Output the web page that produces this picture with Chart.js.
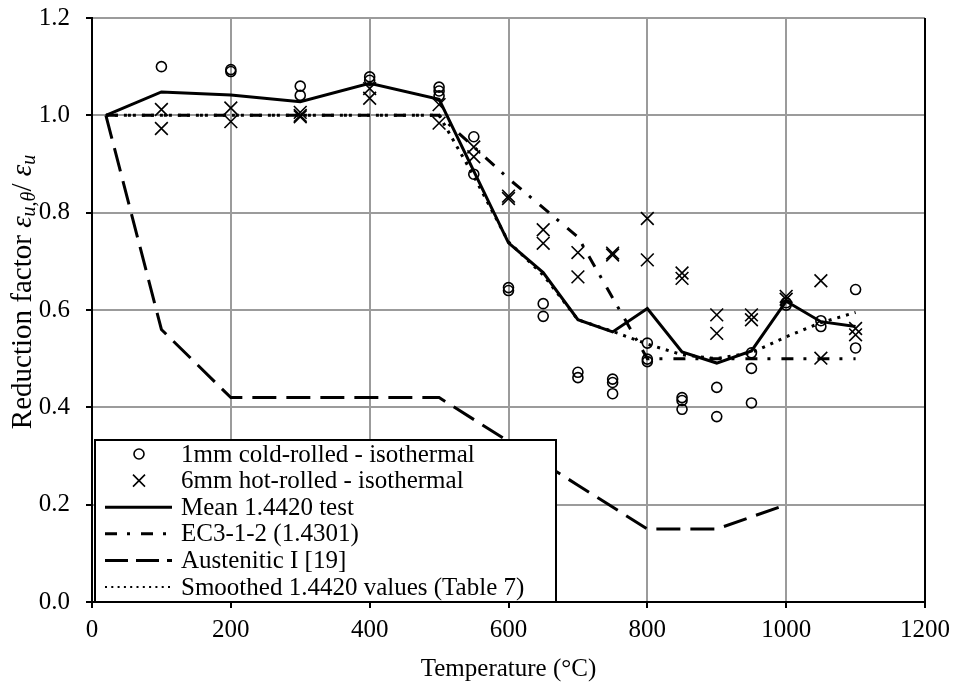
<!DOCTYPE html>
<html>
<head>
<meta charset="utf-8">
<script src="https://cdn.jsdelivr.net/npm/chart.js@4.4.0/dist/chart.umd.min.js"></script>
<style>
  html, body { margin: 0; padding: 0; background: #fff; }
</style>
</head>
<body>
<canvas id="chart" width="957" height="691"></canvas>
<script>
// test points, 1mm cold-rolled (circles)
const coldTemps = [100, 200, 200, 300, 300, 400, 400, 500, 500, 500, 550, 550, 600, 600, 650, 650,
  700, 700, 750, 750, 750, 800, 800, 800, 850, 850, 850, 900, 900, 950, 950, 950, 1000, 1000,
  1050, 1050, 1100, 1100];
const coldValues = [1.10, 1.090, 1.094, 1.060, 1.041, 1.079, 1.072, 1.058, 1.050, 1.040, 0.956, 0.879,
  0.646, 0.640, 0.613, 0.587, 0.472, 0.461, 0.458, 0.451, 0.428, 0.532, 0.499, 0.494, 0.420, 0.414,
  0.396, 0.441, 0.381, 0.512, 0.480, 0.409, 0.615, 0.610, 0.578, 0.566, 0.642, 0.522];

// test points, 6mm hot-rolled (crosses)
const hotTemps = [100, 100, 200, 200, 300, 300, 300, 400, 400, 500, 500, 550, 550, 600, 600, 650, 650,
  700, 700, 750, 750, 800, 800, 850, 850, 900, 900, 950, 950, 1000, 1000, 1050, 1050, 1100, 1100];
const hotValues = [1.012, 0.973, 1.015, 0.987, 1.006, 1.000, 0.997, 1.055, 1.035, 1.022, 0.984, 0.935,
  0.915, 0.834, 0.829, 0.765, 0.737, 0.718, 0.668, 0.717, 0.713, 0.788, 0.703, 0.676, 0.665, 0.590,
  0.552, 0.590, 0.580, 0.628, 0.622, 0.660, 0.501, 0.562, 0.549];

const meanTemps = [20, 100, 200, 300, 400, 500, 600, 650, 700, 750, 800, 850, 900, 950, 1000, 1050, 1100];
const meanValues = [1.0, 1.048, 1.042, 1.028, 1.066, 1.033, 0.738, 0.677, 0.580, 0.555, 0.603, 0.514,
  0.491, 0.516, 0.618, 0.576, 0.566];

const ec3Temps = [20, 100, 200, 300, 400, 500, 600, 700, 800, 900, 1000, 1100];
const ec3Values = [1.0, 1.0, 1.0, 1.0, 1.0, 1.0, 0.87, 0.75, 0.5, 0.5, 0.5, 0.5];

const austTemps = [20, 100, 200, 300, 400, 500, 600, 700, 800, 900, 1000];
const austValues = [1.0, 0.56, 0.42, 0.42, 0.42, 0.42, 0.33, 0.24, 0.15, 0.15, 0.20];

const smoothTemps = [20, 100, 200, 300, 400, 500, 550, 600, 650, 700, 750, 800, 850, 900, 950, 1000, 1050, 1100];
const smoothValues = [1.0, 1.0, 1.0, 1.0, 1.0, 1.0, 0.875, 0.74, 0.672, 0.58, 0.556, 0.53, 0.508, 0.50,
  0.512, 0.545, 0.574, 0.595];

const xTicks = [0, 200, 400, 600, 800, 1000, 1200];
const yTicks = [0, 0.2, 0.4, 0.6, 0.8, 1.0, 1.2];

const FONT = '"Liberation Serif", "Times New Roman", serif';
const GRID = '#9b9b9b';

const pts = (xs, ys) => xs.map((x, i) => ({ x: x, y: ys[i] }));

// black right-hand frame line
const frame = {
  id: 'frame',
  afterDraw(chart) {
    const { ctx, chartArea: a } = chart;
    ctx.save();
    ctx.strokeStyle = '#000';
    ctx.lineWidth = 2;
    ctx.beginPath();
    ctx.moveTo(a.right, a.top);
    ctx.lineTo(a.right, a.bottom + 1);
    ctx.stroke();
    ctx.restore();
  }
};

// y axis title with subscripts
const yTitle = {
  id: 'yTitle',
  afterDraw(chart) {
    const c = chart.ctx;
    const parts = [
      { t: 'Reduction factor ', f: '29px ' + FONT, dy: 0 },
      { t: 'ε', f: 'italic 29px ' + FONT, dy: 0 },
      { t: 'u,θ', f: 'italic 20px ' + FONT, dy: 7 },
      { t: '/ ', f: '29px ' + FONT, dy: 0 },
      { t: 'ε', f: 'italic 29px ' + FONT, dy: 0 },
      { t: 'u', f: 'italic 20px ' + FONT, dy: 7 }
    ];
    c.save();
    let total = 0;
    parts.forEach(p => { c.font = p.f; p.w = c.measureText(p.t).width; total += p.w; });
    c.translate(23, 292);
    c.rotate(-Math.PI / 2);
    c.fillStyle = '#000';
    c.textBaseline = 'middle';
    let x = -total / 2;
    parts.forEach(p => {
      c.font = p.f;
      c.fillText(p.t, x, p.dy);
      x += p.w;
    });
    c.restore();
  }
};

// boxed legend in the lower left of the plot
const boxLegend = {
  id: 'boxLegend',
  afterDraw(chart) {
    const c = chart.ctx;
    const left = 95, top = 440, right = 556, bottom = 602;
    c.save();
    c.fillStyle = '#fff';
    c.fillRect(left, top, right - left, bottom - top);
    c.strokeStyle = '#000';
    c.lineWidth = 2;
    c.strokeRect(left, top, right - left, bottom - top);
    c.font = '25px ' + FONT;
    c.textBaseline = 'middle';
    chart.data.datasets.forEach((ds, i) => {
      const y = 454 + i * 26.6;
      c.strokeStyle = '#000';
      if (ds.showLine === false) {
        c.lineWidth = ds.borderWidth;
        c.setLineDash([]);
        c.beginPath();
        if (ds.pointStyle === 'circle') {
          c.arc(139, y, 5, 0, Math.PI * 2);
        } else {
          c.moveTo(133, y - 6); c.lineTo(145, y + 6);
          c.moveTo(133, y + 6); c.lineTo(145, y - 6);
        }
        c.stroke();
      } else {
        c.lineWidth = ds.legendWidth || ds.borderWidth;
        c.setLineDash(ds.legendDash || ds.borderDash || []);
        c.beginPath();
        c.moveTo(105, y);
        c.lineTo(172, y);
        c.stroke();
      }
      c.setLineDash([]);
      c.fillStyle = '#000';
      c.fillText(ds.label, 181, y + 1);
    });
    c.restore();
  }
};

new Chart(document.getElementById('chart'), {
  type: 'scatter',
  data: {
    datasets: [
      {
        label: '1mm cold-rolled - isothermal',
        data: pts(coldTemps, coldValues),
        showLine: false,
        pointStyle: 'circle',
        pointRadius: 5,
        borderColor: '#000',
        backgroundColor: 'rgba(0,0,0,0)',
        borderWidth: 1.6
      },
      {
        label: '6mm hot-rolled - isothermal',
        data: pts(hotTemps, hotValues),
        showLine: false,
        pointStyle: 'crossRot',
        pointRadius: 9,
        borderColor: '#000',
        borderWidth: 1.6
      },
      {
        label: 'Mean 1.4420 test',
        data: pts(meanTemps, meanValues),
        showLine: true,
        borderColor: '#000',
        borderWidth: 3,
        pointRadius: 0,
        tension: 0
      },
      {
        label: 'EC3-1-2 (1.4301)',
        data: pts(ec3Temps, ec3Values),
        showLine: true,
        borderColor: '#000',
        borderWidth: 3,
        borderDash: [12, 10, 3, 11],
        pointRadius: 0
      },
      {
        label: 'Austenitic I [19]',
        data: pts(austTemps, austValues),
        showLine: true,
        borderColor: '#000',
        borderWidth: 3,
        borderDash: [24, 10],
        legendDash: [23, 8],
        pointRadius: 0
      },
      {
        label: 'Smoothed 1.4420 values (Table 7)',
        data: pts(smoothTemps, smoothValues),
        showLine: true,
        borderColor: '#000',
        borderWidth: 3,
        borderDash: [3, 6],
        legendDash: [2, 4.3],
        legendWidth: 2,
        pointRadius: 0
      }
    ]
  },
  options: {
    responsive: false,
    animation: false,
    layout: { padding: { top: 18, right: 32, left: 0, bottom: 0 } },
    plugins: { legend: { display: false }, tooltip: { enabled: false } },
    scales: {
      x: {
        type: 'linear',
        min: 0,
        max: 1200,
        afterBuildTicks: s => { s.ticks = xTicks.map(v => ({ value: v })); },
        afterFit: s => { s.height = 89; s.paddingLeft = 0; s.paddingRight = 0; },
        ticks: { color: '#000', font: { family: FONT, size: 25 }, padding: 7, maxRotation: 0, callback: v => String(v) },
        grid: { color: GRID, lineWidth: 2, tickColor: '#000', tickLength: 6 },
        border: { color: '#000', width: 2 },
        title: {
          display: true,
          text: 'Temperature (°C)',
          color: '#000',
          font: { family: FONT, size: 25 },
          padding: { top: 0, bottom: 7 }
        }
      },
      y: {
        min: 0,
        max: 1.2,
        afterBuildTicks: s => { s.ticks = yTicks.map(v => ({ value: v })); },
        afterFit: s => { s.width = 92; s.paddingTop = 0; s.paddingBottom = 0; },
        ticks: { color: '#000', font: { family: FONT, size: 25 }, padding: 16, callback: v => v.toFixed(1) },
        grid: { color: GRID, lineWidth: 2, tickColor: '#000', tickLength: 6 },
        border: { color: '#000', width: 2 }
      }
    }
  },
  plugins: [frame, yTitle, boxLegend]
});
</script>
</body>
</html>
